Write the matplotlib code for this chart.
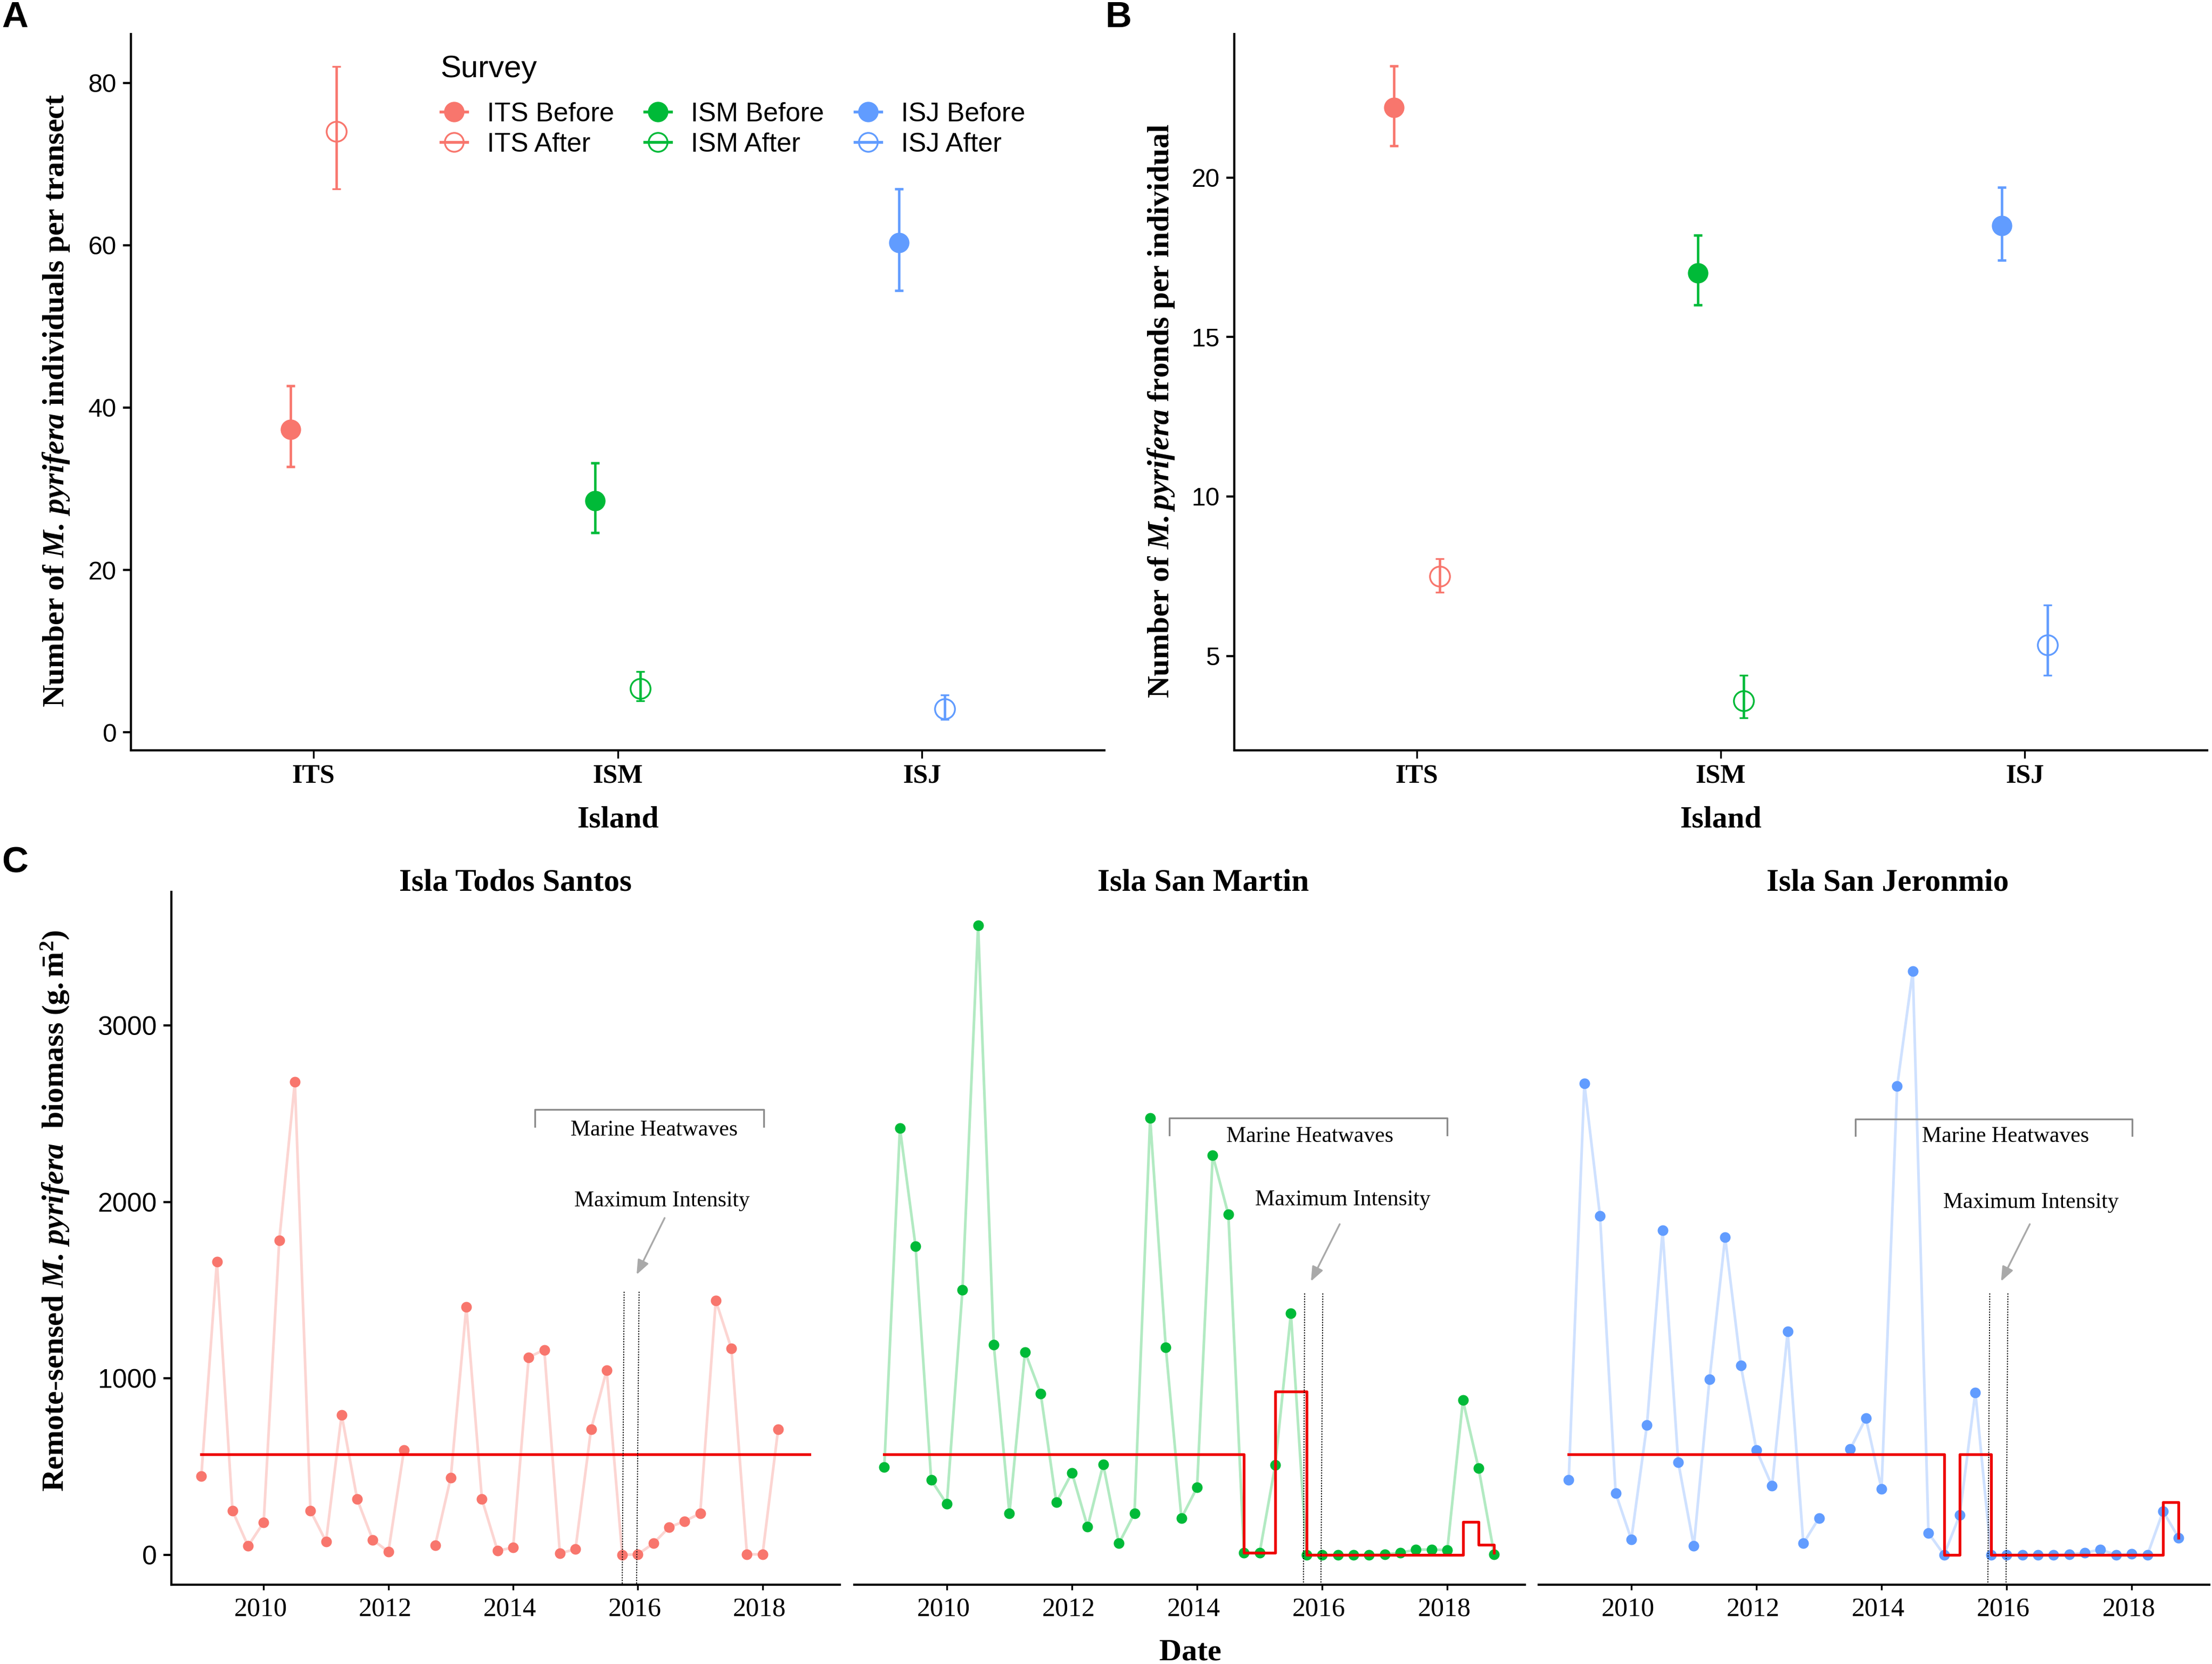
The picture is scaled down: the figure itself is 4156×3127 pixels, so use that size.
import matplotlib
matplotlib.use('Agg')
import matplotlib.pyplot as plt
from matplotlib.lines import Line2D
from matplotlib.transforms import ScaledTranslation
import numpy as np

plt.rcParams['font.family'] = ['Liberation Sans', 'DejaVu Sans']
plt.rcParams['mathtext.fontset'] = 'custom'
plt.rcParams['mathtext.rm'] = 'Liberation Serif'
plt.rcParams['mathtext.bf'] = 'Liberation Serif:bold'
plt.rcParams['mathtext.it'] = 'Liberation Serif:italic'
plt.rcParams['mathtext.bfit'] = 'Liberation Serif:italic:bold'

W, H = 4156, 3127
RED = '#F8766D'
GREEN = '#00BA38'
BLUE = '#619CFF'

islands = ['ITS', 'ISM', 'ISJ']
colors = [RED, GREEN, BLUE]

# panel A: individuals per transect
a_before = [37.3, 28.5, 60.3]
a_before_lo = [32.7, 24.6, 54.4]
a_before_hi = [42.7, 33.2, 66.9]
a_after = [74.0, 5.4, 2.9]
a_after_lo = [66.9, 3.9, 1.6]
a_after_hi = [82.0, 7.5, 4.6]

# panel B: fronds per individual
b_before = [22.2, 17.0, 18.5]
b_before_lo = [21.0, 16.0, 17.4]
b_before_hi = [23.5, 18.2, 19.7]
b_after = [7.5, 3.6, 5.35]
b_after_lo = [7.0, 3.05, 4.4]
b_after_hi = [8.05, 4.4, 6.6]

# panel C: quarterly biomass 2009.0 - 2018.75
dates = [2009 + q * 0.25 for q in range(40)]
nan = float('nan')
its_biomass = [447, 1662, 250, 50, 185, 1782, 2680, 250, 76, 794, 315, 85, 18, 594, nan, 53,
               438, 1406, 315, 24, 41, 1120, 1162, 9, 32, 712, 1047, 0, 3, 65, 156, 191,
               235, 1441, 1170, 3, 3, 712, nan, nan]
ism_biomass = [497, 2418, 1750, 424, 288, 1503, 3568, 1191, 235, 1150, 915, 297, 465, 159, 512, 65,
               235, 2474, 1176, 209, 382, 2265, 1929, 12, 12, 509, 1368, 0, 0, 0, 0, 0,
               3, 12, 30, 30, 27, 876, 491, 3]
isj_biomass = [426, 2670, 1920, 350, 88, 735, 1838, 526, 50, 994, 1800, 1074, 594, 391, 1265, 65,
               209, nan, 600, 774, 374, 2656, 3309, 124, 0, 226, 921, 0, 0, 0, 0, 0,
               3, 12, 30, 0, 6, 0, 247, 97]

# red threshold steps
its_red = [570] * 40
ism_red = [570] * 23 + [12, 12, 926, 926] + [0] * 10 + [188, 56, 12]
isj_red = [570] * 24 + [0, 570, 570] + [0] * 11 + [297, 97]

fig = plt.figure(figsize=(W / 300, H / 300), dpi=300)


def make_axes(x0, x1, top, bottom):
    return fig.add_axes([x0 / W, 1 - bottom / H, (x1 - x0) / W, (bottom - top) / H])


def clean(ax):
    ax.spines['top'].set_visible(False)
    ax.spines['right'].set_visible(False)
    ax.spines['left'].set_linewidth(1.0)
    ax.spines['bottom'].set_linewidth(1.0)
    ax.patch.set_alpha(0)


def pointrange(ax, before, b_lo, b_hi, after, a_lo, a_hi):
    for i, c in enumerate(colors):
        x = i + 1
        ax.errorbar(x - 0.075, before[i], yerr=[[before[i] - b_lo[i]], [b_hi[i] - before[i]]],
                    fmt='o', color=c, ms=8.2, elinewidth=1.1, capsize=1.9, capthick=1.1)
        ax.errorbar(x + 0.075, after[i], yerr=[[after[i] - a_lo[i]], [a_hi[i] - after[i]]],
                    fmt='o', color=c, mfc='none', mec=c, mew=0.8, ms=9, elinewidth=1.1,
                    capsize=1.9, capthick=1.1)
    ax.set_xlim(0.4, 3.6)
    ax.set_xticks([1, 2, 3])
    ax.set_xticklabels(islands, family='Liberation Serif', fontweight='bold', fontsize=12)
    ax.tick_params(axis='x', length=3.5, width=0.8, pad=2.6)
    ax.tick_params(axis='y', length=3.5, width=1.0, labelsize=11.5, pad=3)
    ax.set_xlabel('Island', family='Liberation Serif', fontweight='bold', fontsize=13.8, labelpad=8)
    clean(ax)


# panel A
ax_a = make_axes(246, 2075, 64, 1410)
pointrange(ax_a, a_before, a_before_lo, a_before_hi, a_after, a_after_lo, a_after_hi)
ax_a.set_ylim(-2.2, 86)
ax_a.set_yticks([0, 20, 40, 60, 80])
ax_a.set_ylabel(r'$\mathbf{Number\ of}\ \mathbfit{M.\,pyrifera}\ \mathbf{individuals\ per\ transect}$',
                fontsize=13.9)
ax_a.yaxis.set_label_coords(-0.061, 0.488)

handles = []
labels = []
for name, c in zip(islands, colors):
    handles.append(Line2D([], [], color=c, lw=1.3, marker='o', ms=8.2))
    labels.append(name + ' Before')
    handles.append(Line2D([], [], color=c, lw=1.3, marker='o', ms=8.5, mfc='none', mew=0.8))
    labels.append(name + ' After')
leg = ax_a.legend(handles, labels, ncol=3, title='Survey', frameon=False, fontsize=12,
                  title_fontsize=14, loc='upper left', bbox_to_anchor=(0.318, 0.971),
                  handlelength=1.0, handletextpad=0.74, columnspacing=1.15, labelspacing=0.22,
                  borderpad=0, borderaxespad=0)
leg._legend_box.align = 'left'
leg._legend_box.sep = 8.3

# panel B
ax_b = make_axes(2319, 4147, 64, 1410)
pointrange(ax_b, b_before, b_before_lo, b_before_hi, b_after, b_after_lo, b_after_hi)
ax_b.set_ylim(2.04, 24.5)
ax_b.set_yticks([5, 10, 15, 20])
ax_b.set_ylabel(r'$\mathbf{Number\ of}\ \mathbfit{M.pyrifera}\ \mathbf{fronds\ per\ individual}$',
                fontsize=13.85)
ax_b.yaxis.set_label_coords(-0.0595, 0.474)

# panel C
ax_c1 = make_axes(322, 1578, 1676, 2978)
ax_c2 = make_axes(1605, 2865, 1676, 2978)
ax_c3 = make_axes(2891, 4151, 1676, 2978)

panels = [
    dict(ax=ax_c1, y=its_biomass, red=its_red, c=RED, title='Isla Todos Santos', tx=0.515,
         br=(2014.35, 2018.02, 2523, 2426), heat=(2016.26, 2406), maxi=(2016.39, 2006),
         arrow=(2016.43, 1909, 2015.98, 1588),
         v1=(2015.78, 2015.75), v2=(2016.02, 2015.98), vtop=1491),
    dict(ax=ax_c2, y=ism_biomass, red=ism_red, c=GREEN, title='Isla San Martin', tx=0.52,
         br=(2013.56, 2018.0, 2474, 2379), heat=(2015.8, 2370), maxi=(2016.33, 2012),
         arrow=(2016.28, 1874, 2015.82, 1550),
         v1=(2015.72, 2015.70), v2=(2016.01, 2015.98), vtop=1482),
    dict(ax=ax_c3, y=isj_biomass, red=isj_red, c=BLUE, title='Isla San Jeronmio', tx=0.52,
         br=(2013.58, 2018.01, 2470, 2375), heat=(2015.98, 2370), maxi=(2016.39, 1997),
         arrow=(2016.37, 1874, 2015.91, 1550),
         v1=(2015.73, 2015.70), v2=(2016.02, 2015.99), vtop=1482),
]

shift = ScaledTranslation(-1.45 / 72, 0, fig.dpi_scale_trans)

for p in panels:
    ax = p['ax']
    ax.plot(dates, p['y'], color=p['c'], alpha=0.3, lw=1.2, zorder=2)
    ax.plot(dates, p['y'], 'o', color=p['c'], ms=4.8, mew=0, zorder=3)
    ax.step(dates, p['red'], where='post', color='#EE0000', lw=1.25, zorder=4)
    ax.set_xlim(2008.52, 2019.24)
    ax.set_ylim(-169, 3757)
    ax.set_xticks([2010, 2012, 2014, 2016, 2018])
    ax.set_xticklabels(['2010', '2012', '2014', '2016', '2018'], family='Liberation Serif', fontsize=12)
    ax.tick_params(axis='x', length=2.5, width=0.8, pad=3)
    for lab in ax.get_xticklabels():
        lab.set_transform(lab.get_transform() + shift)
    ax.set_title(p['title'], family='Liberation Serif', fontweight='bold', fontsize=14.2,
                 x=p['tx'], y=1.0, pad=0.6)
    clean(ax)

    x0, x1, ytop, yleg = p['br']
    ax.plot([x0, x0, x1, x1], [yleg, ytop, ytop, yleg], color='#8C8C8C', lw=0.8)
    ax.text(p['heat'][0], p['heat'][1], 'Marine Heatwaves', family='Liberation Serif', fontsize=10,
            ha='center', va='center')
    ax.text(p['maxi'][0], p['maxi'][1], 'Maximum Intensity', family='Liberation Serif', fontsize=10,
            ha='center', va='center')
    ax_x0, ax_y0, ax_x1, ax_y1 = p['arrow']
    ax.annotate('', xy=(ax_x1, ax_y1), xytext=(ax_x0, ax_y0),
                arrowprops=dict(arrowstyle='-|>,head_width=0.22,head_length=0.55', color='#A9A9A9',
                                lw=0.8, shrinkA=0, shrinkB=0))
    for v in [p['v1'], p['v2']]:
        ax.plot([v[0], v[1]], [p['vtop'], -169], color='black', lw=0.45, ls=(0, (1.3, 1.3)), zorder=5)

ax_c1.set_yticks([0, 1000, 2000, 3000])
ax_c1.tick_params(axis='y', length=3.5, width=1.0, labelsize=12, pad=3)
ax_c1.set_ylabel(r'$\mathbf{Remote\text{-}sensed}\ \mathbfit{M.\,pyrifera}\ \ \mathbf{biomass\ (g.\bar{m}^{2})}$',
                 fontsize=13.9)
ax_c1.yaxis.set_label_coords(-0.15, 0.54)
for ax in [ax_c2, ax_c3]:
    ax.spines['left'].set_visible(False)
    ax.set_yticks([])

fig.text(2236 / W, 1 - 3106 / H, 'Date', family='Liberation Serif', fontweight='bold', fontsize=14,
         ha='center', va='center')

# panel letters
fig.text(3 / W, 1 - 33 / H, 'A', fontweight='bold', fontsize=16.5, ha='left', va='center')
fig.text(2076 / W, 1 - 33 / H, 'B', fontweight='bold', fontsize=16.5, ha='left', va='center')
fig.text(3 / W, 1 - 1622 / H, 'C', fontweight='bold', fontsize=16.5, ha='left', va='center')

fig.savefig('out.png', dpi=300)
